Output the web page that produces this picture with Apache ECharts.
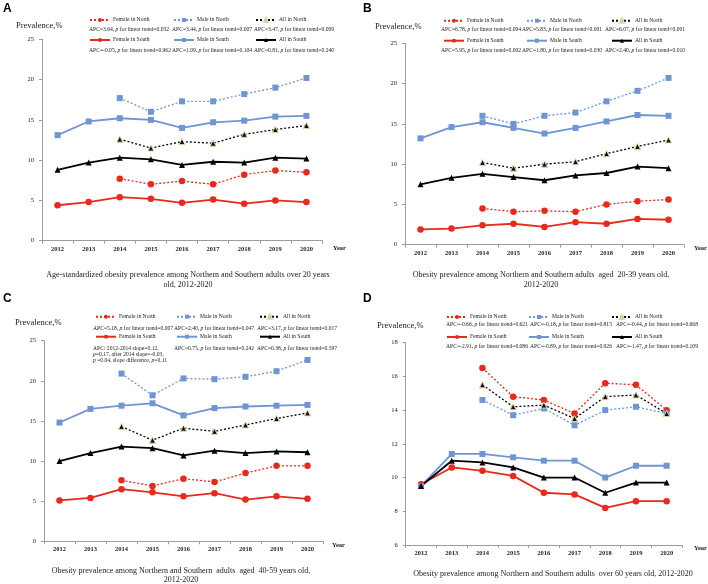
<!DOCTYPE html>
<html><head><meta charset="utf-8">
<script src="https://cdn.jsdelivr.net/npm/echarts@6/dist/echarts.min.js"></script>
<style>html,body{margin:0;padding:0;background:#fff}#c{width:708px;height:584px}</style>
</head><body><div id="c"></div>
<script>
const years = ['2012','2013','2014','2015','2016','2017','2018','2019','2020'];
const seriesNames = ['Female in North','Male in North','All in North','Female in South','Male in South','All in South'];

// Panel A
const aFemaleNorth = [null,null,7.7,7.0,7.4,7.0,8.2,8.7,8.5];
const aMaleNorth   = [null,null,17.7,16.0,17.3,17.3,18.2,19.0,20.2];
const aAllNorth    = [null,null,12.6,11.5,12.3,12.1,13.2,13.8,14.3];
const aFemaleSouth = [4.4,4.8,5.4,5.2,4.7,5.1,4.6,5.0,4.8];
const aMaleSouth   = [13.1,14.8,15.2,15.0,14.0,14.7,14.9,15.4,15.5];
const aAllSouth    = [8.8,9.7,10.3,10.1,9.4,9.8,9.7,10.3,10.2];
// Panel B
const bFemaleNorth = [null,null,4.5,4.1,4.2,4.1,5.0,5.4,5.6];
const bMaleNorth   = [null,null,16.0,15.0,16.0,16.4,17.8,19.1,20.7];
const bAllNorth    = [null,null,10.2,9.5,10.0,10.3,11.3,12.2,13.0];
const bFemaleSouth = [1.9,2.0,2.4,2.6,2.2,2.8,2.6,3.2,3.1];
const bMaleSouth   = [13.2,14.6,15.2,14.5,13.8,14.5,15.3,16.1,16.0];
const bAllSouth    = [7.5,8.3,8.8,8.4,8.0,8.6,8.9,9.7,9.5];
// Panel C
const cFemaleNorth = [null,null,7.6,6.9,7.8,7.4,8.5,9.4,9.4];
const cMaleNorth   = [null,null,20.9,18.2,20.3,20.2,20.5,21.2,22.6];
const cAllNorth    = [null,null,14.3,12.6,14.1,13.7,14.5,15.3,16.0];
const cFemaleSouth = [5.1,5.4,6.5,6.1,5.6,6.0,5.2,5.6,5.3];
const cMaleSouth   = [14.8,16.5,16.9,17.2,15.7,16.6,16.8,16.9,17.0];
const cAllSouth    = [10.0,11.0,11.8,11.6,10.7,11.3,11.0,11.2,11.1];
// Panel D
const dFemaleNorth = [null,null,16.5,14.8,14.6,13.8,15.6,15.5,14.0];
const dMaleNorth   = [null,null,14.6,13.7,14.1,13.1,14.0,14.2,13.8];
const dAllNorth    = [null,null,15.5,14.2,14.3,13.5,14.8,14.9,13.8];
const dFemaleSouth = [9.6,10.6,10.4,10.1,9.1,9.0,8.2,8.6,8.6];
const dMaleSouth   = [9.5,11.4,11.4,11.2,11.0,11.0,10.0,10.7,10.7];
const dAllSouth    = [9.5,11.0,10.9,10.6,10.0,10.0,9.1,9.7,9.7];

// APC annotations (order: Female N, Male N, All N, Female S, Male S, All S)
const aApc = ['APC=3.64, {i|p} for linear trend=0.032','APC=3.44, {i|p} for linear trend=0.007','APC=3.47, {i|p} for linear trend=0.009',
              'APC=-0.05, {i|p} for linear trend=0.962','APC=1.09, {i|p} for linear trend=0.104','APC=0.81, {i|p} for linear trend=0.240'];
const bApc = ['APC=6.78, {i|p} for linear trend=0.004','APC=5.83, {i|p} for linear trend<0.001','APC=6.07, {i|p} for linear trend<0.001',
              'APC=5.95, {i|p} for linear trend=0.002','APC=1.80, {i|p} for linear trend=0.030','APC=2.40, {i|p} for linear trend=0.010'];
const cApc = ['APC=5.18, {i|p} for linear trend=0.007','APC=2.40, {i|p} for linear trend=0.047','APC=3.17, {i|p} for linear trend=0.017',
              'APC: 2012-2014 slope=0.12,\n{i|p}=0.17, after 2014 slope=-0.03,\n{i|p} =0.04, slope difference, {i|p}=0.11','APC=0.75, {i|p} for linear trend=0.242','APC=0.38, {i|p} for linear trend=0.597'];
const dApc = ['APC=-0.66, {i|p} for linear trend=0.621','APC=-0.18, {i|p} for linear trend=0.815','APC=-0.44, {i|p} for linear trend=0.668',
              'APC=-2.91, {i|p} for linear trend=0.086','APC=-0.89, {i|p} for linear trend=0.926','APC=-1.47, {i|p} for linear trend=0.109'];

const captions = [
  'Age-standardized obesity prevalence among Northern and Southern adults over 20 years\nold, 2012-2020',
  'Obesity prevalence among Northern and Southern adults  aged  20-39 years old,\n2012-2020',
  'Obesity prevalence among Northern and Southern  adults  aged  40-59 years old,\n2012-2020',
  'Obesity prevalence among Northern and Southern adults  over 60 years old, 2012-2020'
];
const panelLetters = ['A','B','C','D'];

const panels = [
  {data:[aFemaleNorth,aMaleNorth,aAllNorth,aFemaleSouth,aMaleSouth,aAllSouth], apc:aApc},
  {data:[bFemaleNorth,bMaleNorth,bAllNorth,bFemaleSouth,bMaleSouth,bAllSouth], apc:bApc},
  {data:[cFemaleNorth,cMaleNorth,cAllNorth,cFemaleSouth,cMaleSouth,cAllSouth], apc:cApc},
  {data:[dFemaleNorth,dMaleNorth,dAllNorth,dFemaleSouth,dMaleSouth,dAllSouth], apc:dApc}
];

// layout
const SERIF = '"Liberation Serif","Times New Roman",serif';
const RED = '#E8291C', BLUE = '#6F95D3', BLACK = '#000000';
const grids = [
  {left:42, top:39.3, width:280, height:201.4},
  {left:405, top:43.3, width:279, height:201.4},
  {left:44, top:340.7, width:279, height:200.6},
  {left:405.7, top:342.7, width:276.3, height:202.3}
];
const yRange = [[0,25,5],[0,25,5],[0,25,5],[6,18,2]];
const legendLayout = [
  {row:[21,41], apcRow:[30,51], icon:[89,173,255], apc:[89,172,254]},
  {row:[21.7,41.7], apcRow:[30,50.7], icon:[443,526,611], apc:[441,522,605]},
  {row:[317.7,337.7], apcRow:[329,349], icon:[95,176,259], apc:[93,174,257]},
  {row:[318,338], apcRow:[324.7,347.3], icon:[446,528,611], apc:[446,530,616]}
];
const letterPos = [[3,10],[363,10],[3,300],[363,300]];
const prevPos = [[16,26.5],[375,27],[15,323.5],[377,326.5]];
const yearPos = [[333,249],[694,249.3],[332,546],[694,549]];
const captionPos = [[188,275],[541,275],[181,570.7],[553,573.3]];

const styleFor = [
  {color:RED, type:[2,2], width:1.3, symbol:'circle', size:6.5, fill:RED, border:RED},
  {color:BLUE, type:[2,2], width:1.3, symbol:'rect', size:6, fill:BLUE, border:BLUE},
  {color:BLACK, type:[2,2], width:1.3, symbol:'triangle', size:6, fill:'#111', border:'#d9d6a6'},
  {color:RED, type:'solid', width:1.8, symbol:'circle', size:6.5, fill:RED, border:RED},
  {color:BLUE, type:'solid', width:1.8, symbol:'rect', size:6, fill:BLUE, border:BLUE},
  {color:BLACK, type:'solid', width:1.8, symbol:'triangle', size:6, fill:'#000', border:'#000'}
];

const option = {
  animation:false,
  backgroundColor:'#fff',
  grid: grids.map(g=>Object.assign({containLabel:false}, g)),
  xAxis: grids.map((g,i)=>({
    type:'category', gridIndex:i, data:years, boundaryGap:true,
    axisLine:{lineStyle:{color:'#9c9c9c', width:1}},
    axisTick:{show:true, alignWithLabel:false, length:3, lineStyle:{color:'#9c9c9c'}},
    axisLabel:{fontFamily:SERIF, fontSize:6.5, color:'#222', margin:5, fontWeight:'bold'},
    splitLine:{show:false}
  })),
  yAxis: grids.map((g,i)=>({
    type:'value', gridIndex:i, min:yRange[i][0], max:yRange[i][1], interval:yRange[i][2],
    axisLine:{show:true, lineStyle:{color:'#9c9c9c', width:1}},
    axisTick:{show:true, length:3, lineStyle:{color:'#9c9c9c'}},
    axisLabel:{fontFamily:SERIF, fontSize:6.5, color:'#222', margin:8},
    splitLine:{show:false}
  })),
  legend: [],
  series: [],
  graphic: {elements: []}
};

panels.forEach((p,pi)=>{
  p.data.forEach((arr,si)=>{
    const s = styleFor[si];
    option.series.push({
      name: seriesNames[si], type:'line', xAxisIndex:pi, yAxisIndex:pi,
      data: arr, connectNulls:false,
      symbol: s.symbol, symbolSize: s.size,
      lineStyle:{color:s.color, type:s.type, width:s.width},
      itemStyle:{color:s.fill, borderColor:s.border, borderWidth: si===2?1:0},
      z: si>=3?3:2
    });
  });
  const L = legendLayout[pi];
  for (let si=0; si<6; si++){
    const r = si<3?0:1, c = si%3;
    option.legend.push({
      show:true, selectedMode:false, orient:'horizontal', padding:0,
      left: L.icon[c], top: L.row[r]-4,
      itemWidth:20, itemHeight:5, itemGap:0,
      data:[seriesNames[si]],
      textStyle:{fontFamily:SERIF, fontSize:5.6, color:'#222', padding:[0,0,0,-2]}
    });
    const txt = p.apc[si];
    option.graphic.elements.push({
      type:'text', left:L.apc[c], top:L.apcRow[r]-3.5,
      style:{text:txt, fontFamily:SERIF, fontSize:5.6, fill:'#222', lineHeight:6.2,
        rich:{i:{fontStyle:'italic', fontFamily:SERIF, fontSize:5.6, fill:'#222', lineHeight:6.2}}}
    });
  }
  option.graphic.elements.push({
    type:'text', left:letterPos[pi][0], top:letterPos[pi][1]-7,
    style:{text:panelLetters[pi], fontFamily:'"Liberation Sans",Arial,sans-serif', fontWeight:'bold', fontSize:12, fill:'#000'}
  });
  option.graphic.elements.push({
    type:'text', left:prevPos[pi][0], top:prevPos[pi][1]-5,
    style:{text:'Prevalence,%', fontFamily:SERIF, fontSize:8.5, fill:'#222'}
  });
  option.graphic.elements.push({
    type:'text', left:yearPos[pi][0], top:yearPos[pi][1]-4,
    style:{text:'Year', fontFamily:SERIF, fontSize:6.5, fill:'#222', fontWeight:'bold'}
  });
  option.graphic.elements.push({
    type:'text', x:captionPos[pi][0], y:captionPos[pi][1]-4.5,
    style:{text:captions[pi], fontFamily:SERIF, fontSize:8, fill:'#222', align:'center', textAlign:'center', lineHeight:9.3}
  });
});

const chart = echarts.init(document.getElementById('c'), null, {renderer:'canvas'});
chart.setOption(option);
</script>
</body></html>
